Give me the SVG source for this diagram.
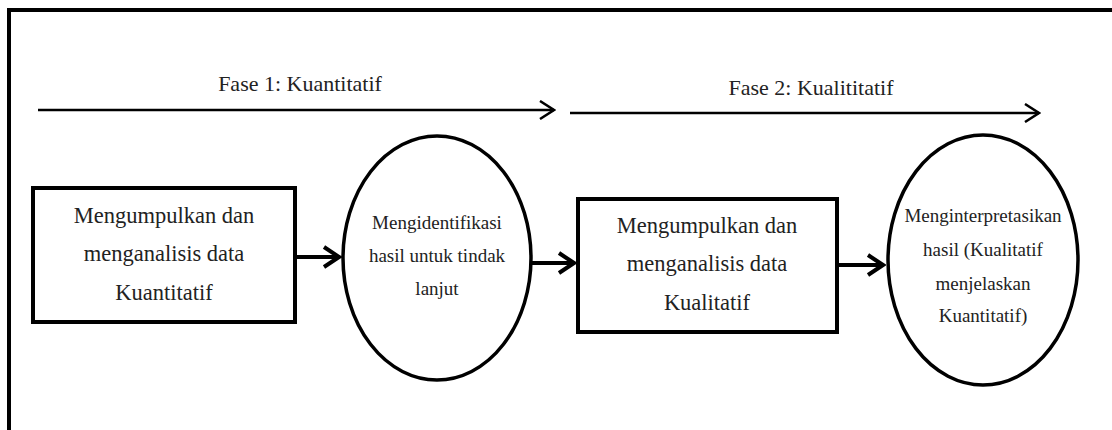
<svg xmlns="http://www.w3.org/2000/svg" width="1112" height="430" viewBox="0 0 1112 430">
<style>
.frame{fill:none;stroke:#000;stroke-width:4}
.box{fill:#fff;stroke:#000;stroke-width:4}
.ell{fill:#fff;stroke:#000;stroke-width:3.5}
.t{font-family:"Liberation Serif","Times New Roman",serif;fill:#222;text-anchor:middle;dominant-baseline:central}
.big{font-size:22.5px}
.small{font-size:19px}
.phase{font-size:22px}
.pline{stroke:#000;stroke-width:2.5;fill:none}
.cline{stroke:#000;stroke-width:4;fill:none}
</style>
<defs>
<marker id="pa" markerUnits="userSpaceOnUse" viewBox="-16 -10 18 20" refX="0" refY="0" markerWidth="18" markerHeight="20" orient="auto">
<path d="M-14,-9 L0,0 L-14,9" fill="none" stroke="#000" stroke-width="2.5"/>
</marker>
<marker id="ca" markerUnits="userSpaceOnUse" viewBox="-18 -12 21 24" refX="0" refY="0" markerWidth="21" markerHeight="24" orient="auto">
<path d="M-15,-10 L0,0 L-15,10" fill="none" stroke="#000" stroke-width="4"/>
</marker>
</defs>
<rect class="frame" x="9" y="10" width="1200" height="500"/>
<g id="phase1">
<text class="t phase" x="300" y="83">Fase 1: Kuantitatif</text>
</g>
<g id="phase2">
<text class="t phase" x="811" y="87">Fase 2: Kualititatif</text>
</g>
<g id="n1">
<rect class="box" x="33" y="188" width="262" height="134"/>
<text class="t big" x="164" y="215">Mengumpulkan dan</text>
<text class="t big" x="164" y="253">menganalisis data</text>
<text class="t big" x="164" y="292">Kuantitatif</text>
</g>
<g id="n2">
<ellipse class="ell" cx="437" cy="258" rx="94" ry="122"/>
<text class="t small" x="437" y="222">Mengidentifikasi</text>
<text class="t small" x="437" y="255">hasil untuk tindak</text>
<text class="t small" x="437" y="288">lanjut</text>
</g>
<g id="n3">
<rect class="box" x="578" y="199" width="259" height="133"/>
<text class="t big" x="707" y="225">Mengumpulkan dan</text>
<text class="t big" x="707" y="263">menganalisis data</text>
<text class="t big" x="707" y="302">Kualitatif</text>
</g>
<g id="n4">
<ellipse class="ell" cx="983" cy="260" rx="95" ry="125"/>
<text class="t small" x="983" y="215">Menginterpretasikan</text>
<text class="t small" x="983" y="249">hasil (Kualitatif</text>
<text class="t small" x="983" y="283">menjelaskan</text>
<text class="t small" x="983" y="315">Kuantitatif)</text>
</g>
<g id="connectors">
<line class="pline" x1="38" y1="110" x2="554" y2="110" marker-end="url(#pa)"/>
<line class="pline" x1="570" y1="113" x2="1039" y2="113" marker-end="url(#pa)"/>
<line class="cline" x1="297" y1="257" x2="339" y2="257" marker-end="url(#ca)"/>
<line class="cline" x1="532" y1="263" x2="574" y2="263" marker-end="url(#ca)"/>
<line class="cline" x1="839" y1="265" x2="883" y2="265" marker-end="url(#ca)"/>
</g>
</svg>
